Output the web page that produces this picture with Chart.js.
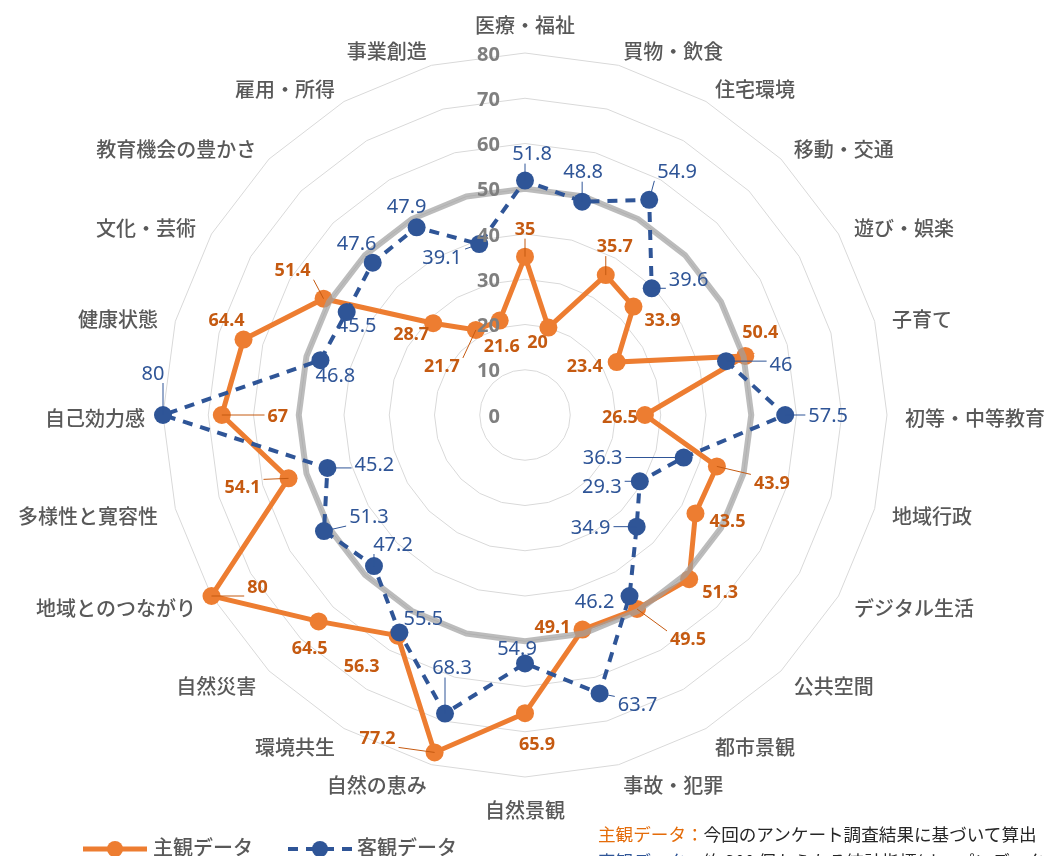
<!DOCTYPE html>
<html lang="ja">
<head>
<meta charset="utf-8">
<title>Radar</title>
<script src="https://cdn.jsdelivr.net/npm/chart.js"></script>
<style>
  html, body { margin: 0; padding: 0; background: #ffffff; overflow: hidden; width: 1044px; height: 856px; }
  #wrap { position: relative; width: 1044px; height: 856px; }
  canvas { position: absolute; left: 0; top: 0; }
  .note { position: absolute; left: 598px; top: 820px; font-family: "Noto Sans CJK JP", sans-serif; font-size: 17.6px; line-height: 27px; color: #262626; white-space: nowrap; }
  .note .s { color: #e46c0a; }
  .note .o { color: #2f5597; }
</style>
</head>
<body>
<div id="wrap">
  <canvas id="c" width="1044" height="856"></canvas>
  <div class="note">
    <div><span class="s">主観データ：</span>今回のアンケート調査結果に基づいて算出</div>
    <div><span class="o">客観データ：</span>約 300 個からなる統計指標(オープンデータ)を基に算出</div>
  </div>
</div>
<script>
// ---- data ----
const categories = [
  '医療・福祉', '買物・飲食', '住宅環境', '移動・交通', '遊び・娯楽', '子育て',
  '初等・中等教育', '地域行政', 'デジタル生活', '公共空間', '都市景観', '事故・犯罪',
  '自然景観', '自然の恵み', '環境共生', '自然災害', '地域とのつながり', '多様性と寛容性',
  '自己効力感', '健康状態', '文化・芸術', '教育機会の豊かさ', '雇用・所得', '事業創造'
];
const subjectiveName = '主観データ';
const objectiveName = '客観データ';
const subjectiveValues = [35, 20, 35.7, 33.9, 23.4, 50.4, 26.5, 43.9, 43.5, 51.3, 49.5, 49.1,
                          65.9, 77.2, 56.3, 64.5, 80, 54.1, 67, 64.4, 51.4, 28.7, 21.7, 21.6];
const objectiveValues = [51.8, 48.8, 54.9, 39.6, null, 46, 57.5, 36.3, 29.3, 34.9, 46.2, 63.7,
                         54.9, 68.3, 55.5, 47.2, 51.3, 45.2, 80, 46.8, 45.5, 47.6, 47.9, 39.1];
const referenceValues = [50, 50, 50, 50, 50, 50, 50, 50, 50, 50, 50, 50,
                         50, 50, 50, 50, 50, 50, 50, 50, 50, 50, 50, 50];
const axisMin = 0;
const axisMax = 80;
const axisStep = 10;

// ---- label placement (offset of value label from its point, leader flag) ----
const subjectiveLabelOffsets = [
  [0, -27, 1], [-11, 15, 0], [9, -28, 1], [29, 14, 0], [-32, 5, 0], [15, -23, 0],
  [-25, 3, 0], [55, 17, 1], [32, 8, 0], [31, 14, 0], [51, 31, 1], [-30, -2, 0],
  [12, 32, 0], [-57, -14, 1], [-36, 31, 0], [-9, 27, 0], [46, -8, 1], [-46, 10, 1],
  [56, 2, 1], [-17, -19, 0], [-31, -28, 1], [-22, 12, 0], [-34, 37, 1], [2, 26, 0]
];
const objectiveLabelOffsets = [
  [7, -26, 1], [1, -29, 1], [28, -28, 1], [37, -8, 1], [0, 0, 0], [55, 4, 1],
  [43, 1, 1], [-81, 1, 1], [-38, 6, 1], [-46, 2, 1], [-35, 6, 0], [38, 12, 1],
  [-8, -14, 0], [7, -45, 1], [24, -13, 0], [19, -21, 1], [45, -14, 1], [47, -3, 1],
  [-10, -41, 1], [15, 16, 0], [10, 14, 0], [-16, -18, 0], [-10, -20, 0], [-37, 14, 1]
];

// ---- geometry / style ----
const GEO = { cx: 525, cy: 415, radius: 362, labelPad: 18 };
const FONT = '"Noto Sans CJK JP", "Noto Sans", sans-serif';
const NUMFONT = '"Noto Sans", "Noto Sans CJK JP", sans-serif';
const ORANGE = '#ed7d31', ORANGE_TEXT = '#c55a11';
const BLUE = '#2f5597', BLUE_TEXT = '#2f5597';

function clamp(v, a, b) { return Math.max(a, Math.min(b, v)); }

function drawValueLabels(ctx, meta, values, offsets, font, color) {
  ctx.font = font;
  ctx.fillStyle = color;
  ctx.strokeStyle = color;
  ctx.lineWidth = 1;
  ctx.textAlign = 'center';
  ctx.textBaseline = 'middle';
  meta.data.forEach((pt, i) => {
    const v = values[i];
    if (v === null || v === undefined) return;
    const [dx, dy, leader] = offsets[i];
    const tx = pt.x + dx, ty = pt.y + dy;
    const text = String(v);
    const w = ctx.measureText(text).width, h = 14;
    if (leader) {
      const bx = clamp(pt.x, tx - w / 2 - 3, tx + w / 2 + 3);
      const by = clamp(pt.y, ty - h / 2 - 2, ty + h / 2 + 2);
      ctx.beginPath();
      ctx.moveTo(pt.x, pt.y);
      ctx.lineTo(bx, by);
      ctx.stroke();
    }
    ctx.fillText(text, tx, ty);
  });
}

const overlayPlugin = {
  id: 'overlay',
  afterDatasetsDraw(chart) {
    const ctx = chart.ctx;
    const r = chart.scales.r;
    const n = chart.data.labels.length;
    ctx.save();
    // category labels
    ctx.font = '500 20px ' + FONT;
    ctx.fillStyle = '#595959';
    ctx.textBaseline = 'middle';
    chart.data.labels.forEach((lab, i) => {
      const deg = Math.round(i * 360 / n);
      const p = r.getPointPosition(i, r.drawingArea + GEO.labelPad);
      let align = 'center', y = p.y + 3;
      if (deg === 0) y = p.y - 10;
      else if (deg === 180) y = p.y + 15;
      else align = deg < 180 ? 'left' : 'right';
      ctx.textAlign = align;
      ctx.fillText(lab, p.x, y);
    });
    // value labels
    const metaS = chart.getDatasetMeta(0);
    const metaO = chart.getDatasetMeta(1);
    drawValueLabels(ctx, metaS, subjectiveValues, subjectiveLabelOffsets, 'bold 18px ' + NUMFONT, ORANGE_TEXT);
    drawValueLabels(ctx, metaO, objectiveValues, objectiveLabelOffsets, '20px ' + NUMFONT, BLUE_TEXT);
    // tick labels
    ctx.font = 'bold 20px ' + NUMFONT;
    ctx.fillStyle = '#7f7f7f';
    ctx.textAlign = 'right';
    ctx.textBaseline = 'middle';
    r.ticks.forEach(t => {
      const d = r.getDistanceFromCenterForValue(t.value);
      ctx.fillText(String(t.value), r.xCenter - 25, r.yCenter - d + 2);
    });
    ctx.restore();
  },
  afterDraw(chart) {
    // legend
    const ctx = chart.ctx;
    const items = [
      { ds: chart.data.datasets[0], x0: 83, x1: 147, mx: 115, tx: 153 },
      { ds: chart.data.datasets[1], x0: 288, x1: 352, mx: 320, tx: 357 }
    ];
    const y = 849;
    ctx.save();
    items.forEach(it => {
      ctx.strokeStyle = it.ds.borderColor;
      ctx.lineWidth = it.ds.borderWidth;
      ctx.setLineDash(it.ds.borderDash || []);
      ctx.beginPath();
      ctx.moveTo(it.x0, y);
      ctx.lineTo(it.x1, y);
      ctx.stroke();
      ctx.setLineDash([]);
      ctx.fillStyle = it.ds.pointBackgroundColor;
      ctx.beginPath();
      ctx.arc(it.mx, y, 8, 0, Math.PI * 2);
      ctx.fill();
      ctx.fillStyle = '#595959';
      ctx.font = '500 20px ' + FONT;
      ctx.textAlign = 'left';
      ctx.textBaseline = 'middle';
      ctx.fillText(it.ds.label, it.tx, y - 2);
    });
    ctx.restore();
  }
};

new Chart(document.getElementById('c'), {
  type: 'radar',
  data: {
    labels: categories,
    datasets: [
      {
        label: subjectiveName,
        data: subjectiveValues,
        borderColor: ORANGE,
        backgroundColor: ORANGE,
        borderWidth: 5,
        pointRadius: 9,
        pointBackgroundColor: ORANGE,
        pointBorderColor: ORANGE,
        pointBorderWidth: 0,
        fill: false,
        tension: 0,
        order: 2
      },
      {
        label: objectiveName,
        data: objectiveValues,
        borderColor: BLUE,
        backgroundColor: BLUE,
        borderWidth: 4,
        borderDash: [10, 8],
        pointRadius: 9,
        pointBackgroundColor: BLUE,
        pointBorderColor: BLUE,
        pointBorderWidth: 0,
        fill: false,
        tension: 0,
        spanGaps: false,
        order: 0
      },
      {
        label: '基準',
        data: referenceValues,
        borderColor: 'rgba(160,160,160,0.7)',
        borderWidth: 6,
        pointRadius: 0,
        fill: false,
        tension: 0,
        order: 1
      }
    ]
  },
  options: {
    responsive: false,
    animation: false,
    layout: { padding: 0 },
    plugins: { legend: { display: false }, tooltip: { enabled: false } },
    scales: {
      r: {
        min: axisMin,
        max: axisMax,
        ticks: { stepSize: axisStep, display: false },
        grid: { color: '#d9d9d9', lineWidth: 1 },
        angleLines: { display: false },
        pointLabels: { display: false },
        afterFit: (s) => { s.xCenter = GEO.cx; s.yCenter = GEO.cy; s.drawingArea = GEO.radius; }
      }
    }
  },
  plugins: [overlayPlugin]
});
</script>
</body>
</html>
